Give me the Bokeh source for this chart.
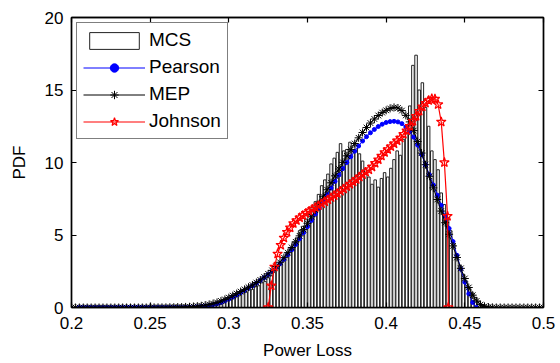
import numpy as np
from bokeh.plotting import figure
from bokeh.models import Legend, LegendItem, LinearAxis, FixedTicker, Range1d
from bokeh.embed import file_html
from bokeh.resources import INLINE

# ---------------- data ----------------
x_ticks = [0.2, 0.25, 0.3, 0.35, 0.4, 0.45, 0.5]
x_tick_labels = ["0.2", "0.25", "0.3", "0.35", "0.4", "0.45", "0.5"]
y_ticks = [0, 5, 10, 15, 20]
y_tick_labels = ["0", "5", "10", "15", "20"]

# MCS histogram (bin centres every 0.002 from 0.285 to 0.463)
mcs_start = 0.285
mcs_step = 0.002
mcs_pdf = [
    0.10, 0.12, 0.18, 0.22, 0.30, 0.33, 0.42, 0.50, 0.58, 0.66,
    0.80, 0.85, 1.00, 1.05, 1.20, 1.25, 1.45, 1.50, 1.70, 1.80,
    2.05, 2.20, 2.50, 2.75, 3.10, 3.35, 3.80, 4.10, 4.50, 4.80,
    5.30, 5.60, 6.10, 6.40, 6.90, 7.30, 7.80, 8.40, 8.80, 9.20,
    9.90, 10.30, 10.70, 11.30, 10.80, 10.90, 11.40, 10.80, 11.20, 10.60,
    10.10, 9.50, 9.00, 8.50, 8.80, 8.30, 8.90, 9.30, 9.00, 9.60,
    10.20, 10.80, 10.50, 11.60, 12.50, 13.90, 16.70, 17.40, 15.00, 15.50,
    13.80, 12.50, 10.80, 10.20, 9.50, 7.90, 7.10, 6.20, 5.30, 4.40,
    3.60, 2.90, 2.30, 1.80, 1.30, 1.00, 0.70, 0.40, 0.20, 0.08,
]

# MEP curve, every 0.0025 from 0.2 to 0.5
mep_start = 0.2
mep_step = 0.0025
mep_pdf = [
    0.00, 0.00, 0.00, 0.00, 0.00, 0.00, 0.00, 0.00, 0.00, 0.00,
    0.00, 0.00, 0.00, 0.00, 0.00, 0.00, 0.00, 0.00, 0.00, 0.00,
    0.00, 0.01, 0.01, 0.01, 0.01, 0.02, 0.02, 0.03, 0.03, 0.04,
    0.05, 0.07, 0.09, 0.12, 0.16, 0.21, 0.27, 0.35, 0.45, 0.56,
    0.68, 0.82, 0.96, 1.10, 1.25, 1.40, 1.55, 1.72, 1.90, 2.10,
    2.32, 2.56, 2.83, 3.12, 3.44, 3.78, 4.14, 4.53, 4.94, 5.37,
    5.81, 6.26, 6.71, 7.17, 7.64, 8.12, 8.60, 9.08, 9.55, 10.01,
    10.46, 10.89, 11.31, 11.70, 12.07, 12.41, 12.72, 13.00, 13.24, 13.44,
    13.60, 13.73, 13.80, 13.76, 13.58, 13.25, 12.80, 12.20, 11.45, 10.65,
    9.85, 9.05, 8.25, 7.45, 6.65, 5.85, 5.05, 4.25, 3.45, 2.70,
    2.00, 1.38, 0.85, 0.45, 0.20, 0.08, 0.03, 0.01, 0.00, 0.00,
    0.00, 0.00, 0.00, 0.00, 0.00, 0.00, 0.00, 0.00, 0.00, 0.00,
    0.00,
]

# Pearson curve, every 0.0025 from 0.205 to 0.4575
pearson_start = 0.205
pearson_step = 0.0025
pearson_pdf = [
    0.00, 0.00, 0.00, 0.00, 0.00, 0.00, 0.00, 0.00, 0.00, 0.00,
    0.00, 0.00, 0.00, 0.00, 0.00, 0.00, 0.00, 0.00, 0.00, 0.00,
    0.00, 0.00, 0.00, 0.00, 0.00, 0.00, 0.00, 0.01, 0.02, 0.03,
    0.05, 0.07, 0.10, 0.14, 0.19, 0.26, 0.35, 0.46, 0.58, 0.72,
    0.87, 1.02, 1.18, 1.34, 1.50, 1.68, 1.86, 2.06, 2.27, 2.50,
    2.75, 3.02, 3.32, 3.64, 3.98, 4.35, 4.75, 5.16, 5.58, 6.00,
    6.44, 6.88, 7.32, 7.78, 8.24, 8.70, 9.14, 9.58, 10.00, 10.40,
    10.78, 11.14, 11.48, 11.78, 12.05, 12.28, 12.48, 12.64, 12.76, 12.82,
    12.84, 12.80, 12.68, 12.45, 12.15, 11.75, 11.20, 10.55, 9.85, 9.15,
    8.45, 7.75, 7.05, 6.30, 5.45, 4.55, 3.60, 2.65, 1.75, 0.95,
    0.35, 0.00,
]

# Johnson curve
johnson_x = [
    0.325, 0.327, 0.329, 0.331, 0.333, 0.335, 0.337, 0.339, 0.341, 0.343,
    0.345, 0.347, 0.349, 0.351, 0.353, 0.355, 0.357, 0.359, 0.361, 0.363,
    0.365, 0.367, 0.369, 0.371, 0.373, 0.375, 0.377, 0.379, 0.381, 0.383,
    0.385, 0.387, 0.389, 0.391, 0.393, 0.395, 0.397, 0.399, 0.401, 0.403,
    0.405, 0.407, 0.409, 0.411, 0.413, 0.415, 0.417, 0.419, 0.421, 0.423,
    0.425, 0.427, 0.429, 0.431, 0.433, 0.435, 0.437, 0.439, 0.4395,
]
johnson_pdf = [
    0.0, 1.5, 2.8, 3.7, 4.3, 4.8, 5.2, 5.5, 5.8, 6.0,
    6.2, 6.35, 6.5, 6.65, 6.78, 6.9, 7.03, 7.16, 7.3, 7.44,
    7.58, 7.72, 7.87, 8.02, 8.18, 8.34, 8.5, 8.66, 8.83, 9.0,
    9.17, 9.34, 9.5, 9.7, 9.95, 10.2, 10.45, 10.7, 10.9, 11.1,
    11.3, 11.5, 11.7, 11.95, 12.2, 12.5, 12.85, 13.2, 13.55, 13.85,
    14.1, 14.28, 14.4, 14.38, 14.0, 12.8, 10.0, 6.3, 0.0,
]

mcs_x = mcs_start + mcs_step * np.arange(len(mcs_pdf))
mep_x = mep_start + mep_step * np.arange(len(mep_pdf))
pearson_x = pearson_start + pearson_step * np.arange(len(pearson_pdf))

FONT = "Liberation Sans"

p = figure(width=560, height=363,
           x_range=Range1d(0.2, 0.5), y_range=Range1d(0, 20),
           output_backend="svg", toolbar_location=None,
           min_border_left=71, min_border_right=17,
           min_border_top=17, min_border_bottom=56)
p.xgrid.visible = False
p.ygrid.visible = False
p.outline_line_color = "black"
p.outline_line_width = 1.4
p.background_fill_color = "white"
p.border_fill_color = "white"

def style_axis(ax, ticks, labels, show_labels=True):
    ax.ticker = FixedTicker(ticks=ticks)
    ax.major_tick_in = 5
    ax.major_tick_out = 0
    ax.minor_tick_in = 0
    ax.minor_tick_out = 0
    ax.axis_line_color = "black"
    ax.axis_line_width = 1.4
    ax.major_tick_line_color = "black"
    ax.major_tick_line_width = 1.2
    ax.major_label_text_font = FONT
    ax.major_label_text_color = "black"
    if show_labels:
        ax.major_label_overrides = {t: l for t, l in zip(ticks, labels)}
        ax.major_label_text_font_size = "17px"
    else:
        ax.major_label_overrides = {t: "" for t in ticks}
        ax.major_label_text_font_size = "1px"
        ax.major_label_standoff = 0

style_axis(p.xaxis[0], x_ticks, x_tick_labels)
style_axis(p.yaxis[0], y_ticks, y_tick_labels)
p.xaxis[0].major_label_standoff = 9
p.yaxis[0].major_label_standoff = 8
p.xaxis[0].axis_label = "Power Loss"
p.yaxis[0].axis_label = "PDF"
for ax in (p.xaxis[0], p.yaxis[0]):
    ax.axis_label_text_font = FONT
    ax.axis_label_text_font_size = "17px"
    ax.axis_label_text_font_style = "normal"
    ax.axis_label_text_color = "black"
p.xaxis[0].axis_label_standoff = 9
p.yaxis[0].axis_label_standoff = 13

top_ax = LinearAxis()
style_axis(top_ax, x_ticks, x_tick_labels, show_labels=False)
p.add_layout(top_ax, "above")
right_ax = LinearAxis()
style_axis(right_ax, y_ticks, y_tick_labels, show_labels=False)
p.add_layout(right_ax, "right")

r_mcs = p.vbar(x=mcs_x, top=mcs_pdf, bottom=0, width=mcs_step * 0.8,
               fill_color="white", line_color="#222222", line_width=1)

r_p_line = p.line(pearson_x, pearson_pdf, line_color="blue", line_width=1)
r_p_mark = p.scatter(pearson_x, pearson_pdf, marker="circle", size=4,
                     fill_color="blue", line_color="blue")

r_m_line = p.line(mep_x, mep_pdf, line_color="black", line_width=1)
r_m_mark = p.scatter(mep_x, mep_pdf, marker="asterisk", size=8,
                     line_color="black", line_width=1)

r_j_line = p.line(johnson_x, johnson_pdf, line_color="red", line_width=1.2)
r_j_mark = p.scatter(johnson_x, johnson_pdf, marker="star", size=10,
                     line_color="red", fill_color=None, line_width=1.2)

legend = Legend(items=[
    LegendItem(label="MCS", renderers=[r_mcs]),
    LegendItem(label="Pearson", renderers=[r_p_line, r_p_mark]),
    LegendItem(label="MEP", renderers=[r_m_line, r_m_mark]),
    LegendItem(label="Johnson", renderers=[r_j_line, r_j_mark]),
], location="top_left")
legend.margin = 5
legend.padding = 6
legend.spacing = 5
legend.glyph_width = 62
legend.glyph_height = 21
legend.label_height = 21
legend.label_standoff = 4
legend.label_text_font = FONT
legend.label_text_font_size = "19px"
legend.label_text_color = "black"
legend.border_line_color = "black"
legend.border_line_width = 1.5
legend.background_fill_color = "white"
legend.background_fill_alpha = 1.0
p.add_layout(legend, "center")

open("out.html", "w").write(file_html(p, INLINE))
